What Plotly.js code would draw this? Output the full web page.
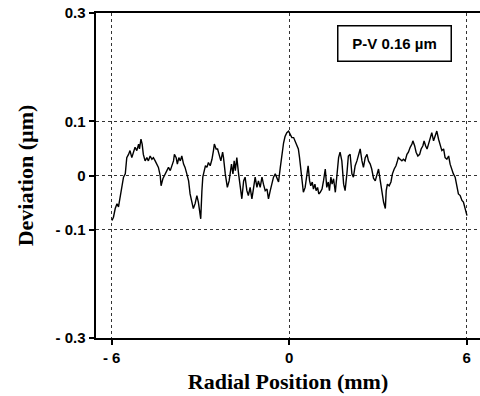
<!DOCTYPE html>
<html>
<head>
<meta charset="utf-8">
<script src="https://cdn.plot.ly/plotly-3.0.1.min.js"></script>
<style>html,body{margin:0;padding:0;background:#fff;}#chart{width:480px;height:396px;}</style>
</head>
<body>
<div id="chart"></div>
<script>
// Radial position (mm)
const radialPosition = [
-5.99,-5.94,-5.88,-5.82,-5.77,-5.71,-5.66,-5.60,-5.54,-5.49,-5.43,-5.38,-5.32,-5.26,-5.21,-5.15,-5.09,-5.06,-5.01,-4.97,
-4.93,-4.87,-4.81,-4.76,-4.70,-4.64,-4.59,-4.53,-4.47,-4.42,-4.36,-4.33,-4.27,-4.19,-4.13,-4.08,-4.02,-3.97,-3.91,-3.88,
-3.82,-3.78,-3.73,-3.68,-3.63,-3.57,-3.52,-3.46,-3.40,-3.35,-3.29,-3.24,-3.18,
-3.12,-3.07,-3.01,-2.99,-2.95,-2.92,-2.87,-2.83,-2.78,-2.73,-2.67,-2.61,-2.56,-2.53,-2.47,-2.42,-2.37,-2.31,-2.25,-2.22,
-2.16,-2.13,-2.09,-2.03,-1.99,-1.95,-1.90,-1.86,-1.82,-1.77,-1.71,-1.66,-1.60,-1.54,-1.49,-1.43,-1.38,-1.32,-1.26,-1.21,
-1.15,-1.09,-1.04,-0.98,-0.92,-0.87,-0.81,-0.75,-0.70,-0.64,-0.58,-0.53,-0.47,-0.42,-0.36,-0.30,-0.25,-0.19,-0.14,-0.08,
-0.02,0.03,0.09,0.15,0.20,0.26,0.31,0.35,0.40,0.44,0.48,0.54,0.60,0.64,0.69,0.73,0.78,0.82,0.87,0.91,0.96,1.00,1.05,
1.11,1.16,1.22,1.27,1.32,1.36,1.41,1.45,1.50,1.56,1.61,1.67,1.72,1.78,1.84,1.89,1.95,2.00,2.06,2.12,2.17,2.23,2.29,
2.34,2.40,2.46,2.51,2.57,2.63,2.68,2.74,2.79,2.85,2.91,2.96,3.02,3.08,3.13,3.19,3.25,3.28,3.32,3.38,3.44,3.49,3.55,
3.61,3.66,3.69,3.75,3.81,3.86,3.92,3.98,4.03,4.09,4.15,4.18,4.24,4.29,4.35,4.41,4.46,4.52,4.56,4.61,4.66,4.71,4.77,
4.82,4.88,4.94,4.99,5.05,5.10,5.16,5.22,5.27,5.33,5.39,5.44,5.50,5.55,5.61,5.67,5.72,5.78,5.84,5.89,5.95,6.01
];
// Deviation (µm)
const deviation = [
-0.083,-0.077,-0.061,-0.052,-0.058,-0.040,-0.022,-0.003,0.003,0.033,0.039,0.046,0.033,0.043,0.052,0.046,0.058,0.049,0.067,0.058,
0.039,0.027,0.033,0.027,0.036,0.030,0.033,0.027,0.021,0.015,0.000,-0.019,-0.006,0.003,0.009,0.015,0.009,0.018,0.027,0.039,
0.033,0.021,0.033,0.027,0.036,0.021,0.015,0.003,-0.010,-0.034,-0.052,-0.061,-0.052,
-0.037,-0.049,-0.077,-0.080,-0.028,-0.003,0.009,0.018,0.015,0.024,0.018,0.030,0.046,0.058,0.049,0.049,0.039,0.027,0.043,0.033,
0.003,-0.012,-0.022,-0.010,0.003,0.021,0.003,0.027,0.009,0.033,0.003,-0.016,-0.043,-0.010,-0.003,-0.028,-0.037,-0.022,-0.043,-0.025,
-0.003,-0.022,-0.010,-0.022,-0.003,-0.016,-0.028,-0.025,-0.043,-0.028,-0.012,-0.003,0.003,-0.006,-0.012,0.015,0.039,0.060,0.072,0.079,
0.082,0.076,0.070,0.070,0.064,0.058,0.049,0.033,0.003,-0.022,-0.031,-0.022,0.003,0.018,-0.010,-0.019,-0.012,-0.025,-0.016,-0.028,-0.022,-0.034,-0.031,
-0.025,-0.010,0.012,-0.022,-0.012,-0.028,-0.003,-0.016,-0.006,-0.031,0.003,0.033,0.043,0.027,-0.016,-0.028,0.003,0.036,0.039,0.003,-0.003,0.018,0.027,
0.039,0.049,0.027,0.015,0.033,0.039,0.027,0.021,0.012,-0.005,-0.010,0.003,0.012,-0.010,-0.028,-0.049,-0.061,-0.028,-0.016,-0.019,-0.012,0.003,0.012,
0.018,0.027,0.033,0.030,0.027,0.030,0.027,0.039,0.043,0.052,0.058,0.064,0.055,0.043,0.036,0.039,0.049,0.055,0.064,0.055,0.049,0.058,0.070,
0.079,0.064,0.073,0.082,0.067,0.055,0.046,0.049,0.033,0.030,0.036,0.021,0.009,0.003,-0.003,-0.019,-0.034,-0.037,-0.046,-0.049,-0.061,-0.074
];
const xTickVals = [-6, 0, 6];
const xTickText = ['- 6', '0', '6'];
const yTickVals = [-0.3, -0.1, 0, 0.1, 0.3];
const yTickText = ['- 0.3', '- 0.1', '0', '0.1', '0.3'];
const pvLabel = 'P-V 0.16 µm';

const tickFont = {family: 'Liberation Sans, Arial, sans-serif', size: 15, color: '#000', weight: 'bold'};
const titleFont = {family: 'Liberation Serif, Times New Roman, serif', size: 22, color: '#000', weight: 'bold'};

Plotly.newPlot('chart', [{
  x: radialPosition, y: deviation, type: 'scatter', mode: 'lines',
  line: {color: '#000', width: 1.4}, hoverinfo: 'skip'
}], {
  width: 480, height: 396,
  margin: {l: 96, r: 0, t: 13, b: 58},
  paper_bgcolor: '#fff', plot_bgcolor: '#fff',
  showlegend: false,
  xaxis: {
    range: [-6.53, 6.45], tickmode: 'array', tickvals: xTickVals, ticktext: xTickText,
    ticks: 'outside', ticklen: 5, tickwidth: 2, tickcolor: '#000',
    showline: true, linecolor: '#000', linewidth: 2, mirror: true,
    showgrid: true, gridcolor: '#333', gridwidth: 1, griddash: 'dot',
    zeroline: false, tickfont: tickFont,
    title: {text: 'Radial Position (mm)', font: titleFont, standoff: 9}
  },
  yaxis: {
    range: [-0.3, 0.3], tickmode: 'array', tickvals: yTickVals, ticktext: yTickText,
    ticks: 'outside', ticklen: 5, tickwidth: 2, tickcolor: '#000',
    showline: true, linecolor: '#000', linewidth: 2.5, mirror: false,
    showgrid: true, gridcolor: '#333', gridwidth: 1, griddash: 'dot',
    zeroline: false, tickfont: tickFont,
    title: {text: 'Deviation (µm)', font: titleFont, standoff: 16}
  },
  annotations: [{
    x: 3.55, y: 0.243, xref: 'x', yref: 'y', showarrow: false,
    text: pvLabel,
    font: {family: 'Liberation Sans, Arial, sans-serif', size: 15, color: '#000', weight: 'bold'},
    bordercolor: '#000', borderwidth: 1.5, bgcolor: '#fff',
    width: 108, height: 30, borderpad: 2
  }]
}, {displayModeBar: false, staticPlot: true});
</script>
</body>
</html>
